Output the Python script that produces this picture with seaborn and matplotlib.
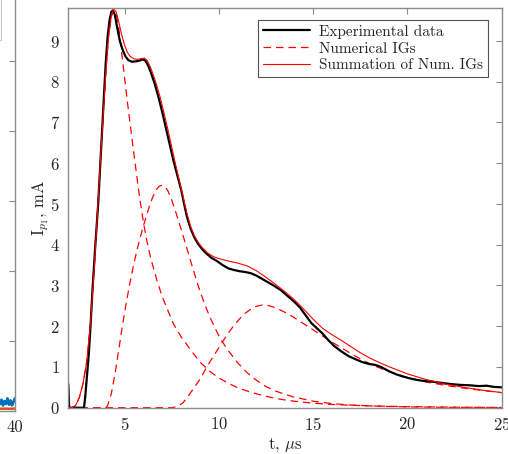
import numpy as np
import pandas as pd
import matplotlib
matplotlib.use("Agg")
import matplotlib.pyplot as plt
from matplotlib.patches import Rectangle
from matplotlib.lines import Line2D
import seaborn as sns

# ---------------- data ----------------
# Experimental data (black)
t_exp = [2.0, 2.02, 2.06, 2.85, 2.92, 3.0, 3.1, 3.2, 3.3, 3.45, 3.6, 3.75, 3.9, 4.0, 4.1, 4.2,
         4.3, 4.38, 4.48, 4.6, 4.75, 4.9, 5.05, 5.2, 5.4, 5.6, 5.8, 5.95, 6.1, 6.25, 6.4, 6.6,
         6.8, 7.0, 7.2, 7.4, 7.6, 7.8, 8.0, 8.15, 8.3, 8.5, 8.7, 8.9, 9.1, 9.3, 9.6, 9.9, 10.2,
         10.5, 10.8, 11.1, 11.4, 11.7, 12.0, 12.3, 12.6, 12.9, 13.3, 13.7, 14.0, 14.3, 14.6,
         14.9, 15.2, 15.5, 15.8, 16.1, 16.5, 16.9, 17.3, 17.6, 18.0, 18.3, 18.6, 19.0, 19.4,
         19.8, 20.3, 20.8, 21.3, 21.8, 22.3, 22.8, 23.3, 23.8, 24.2, 24.6, 25.0]
i_exp = [0.6, 0.55, 0.0, 0.0, 0.3, 0.75, 1.3, 2.05, 2.9, 4.0, 5.0, 6.3, 7.6, 8.45, 9.1, 9.5,
         9.72, 9.75, 9.65, 9.35, 9.0, 8.78, 8.62, 8.53, 8.49, 8.5, 8.52, 8.55, 8.52, 8.4, 8.22, 7.95,
         7.62, 7.25, 6.85, 6.45, 6.05, 5.7, 5.35, 5.02, 4.7, 4.4, 4.18, 4.02, 3.9, 3.8, 3.68, 3.6, 3.5,
         3.42, 3.38, 3.35, 3.33, 3.3, 3.24, 3.16, 3.08, 3.0, 2.88, 2.72, 2.6, 2.46, 2.27,
         2.08, 1.95, 1.82, 1.66, 1.52, 1.38, 1.26, 1.18, 1.12, 1.07, 1.05, 1.0, 0.9, 0.82,
         0.76, 0.7, 0.66, 0.64, 0.61, 0.58, 0.56, 0.55, 0.53, 0.54, 0.51, 0.5]

# Numerical IGs (red dashed)
t_ig1 = [2.0, 2.2, 2.4, 2.6, 2.8, 3.0, 3.2, 3.4, 3.6, 3.8, 4.0, 4.15, 4.3, 4.42, 4.55, 4.7,
         4.85, 5.0, 5.15, 5.3, 5.46, 5.6, 5.8, 6.0, 6.2, 6.4, 6.7, 7.0, 7.3, 7.6, 8.0, 8.5,
         9.0, 9.5, 10.0, 10.5, 11.0, 11.5, 12.0, 12.5, 13.0, 13.5, 14.0, 15.0, 16.0, 17.0,
         18.0, 19.0, 20.0, 21.0, 22.0, 23.0, 24.0, 25.0]
i_ig1 = [0.0, 0.0, 0.05, 0.25, 0.6, 1.15, 2.1, 3.5, 5.1, 6.7, 8.2, 9.1, 9.6, 9.76, 9.7, 9.3,
         8.7, 8.1, 7.5, 6.95, 6.35, 5.85, 5.15, 4.55, 4.05, 3.65, 3.15, 2.72, 2.38, 2.05, 1.74, 1.42,
         1.12, 0.9, 0.73, 0.6, 0.49, 0.41, 0.34, 0.28, 0.23, 0.19, 0.16, 0.11, 0.08, 0.06,
         0.045, 0.035, 0.025, 0.02, 0.015, 0.01, 0.008, 0.005]

t_ig2 = [2.0, 4.0, 4.1, 4.3, 4.5, 4.7, 4.9, 5.1, 5.3, 5.5, 5.7, 5.9, 6.1, 6.3, 6.5, 6.7,
         6.85, 7.0, 7.15, 7.3, 7.5, 7.75, 8.0, 8.3, 8.6, 8.9, 9.2, 9.5, 9.8, 10.1, 10.5, 11.0,
         11.5, 12.0, 12.5, 13.0, 13.5, 14.0, 15.0, 16.0, 17.0, 18.0, 19.0, 20.0, 22.0, 25.0]
i_ig2 = [0.0, 0.0, 0.05, 0.35, 0.85, 1.45, 2.05, 2.6, 3.1, 3.55, 3.95, 4.3, 4.62, 4.92, 5.18, 5.36,
         5.44, 5.46, 5.42, 5.32, 5.1, 4.75, 4.38, 3.92, 3.45, 3.0, 2.6, 2.25, 1.95, 1.68, 1.4, 1.1,
         0.86, 0.67, 0.52, 0.41, 0.33, 0.26, 0.16, 0.1, 0.065, 0.045, 0.03, 0.02, 0.01, 0.005]

t_ig3 = [2.0, 7.5, 7.8, 8.1, 8.4, 8.7, 9.0, 9.3, 9.6, 9.9, 10.2, 10.5, 10.8, 11.1, 11.4,
         11.7, 12.0, 12.3, 12.6, 12.9, 13.2, 13.6, 14.0, 14.5, 15.0, 15.5, 16.0, 16.5, 17.0,
         17.5, 18.0, 18.5, 19.0, 19.5, 20.0, 21.0, 22.0, 23.0, 24.0, 25.0]
i_ig3 = [0.0, 0.0, 0.03, 0.12, 0.3, 0.5, 0.7, 0.95, 1.18, 1.4, 1.62, 1.83, 2.02, 2.18, 2.32,
         2.42, 2.49, 2.52, 2.51, 2.47, 2.41, 2.32, 2.21, 2.06, 1.91, 1.76, 1.61, 1.47, 1.33,
         1.2, 1.08, 0.98, 0.89, 0.81, 0.74, 0.63, 0.55, 0.48, 0.42, 0.37]

# Summation of numerical IGs (red solid)
t_sum = [2.0, 2.2, 2.4, 2.6, 2.8, 3.0, 3.2, 3.4, 3.6, 3.8, 4.0, 4.15, 4.3, 4.42, 4.55, 4.7,
         4.85, 5.0, 5.15, 5.3, 5.5, 5.7, 5.9, 6.05, 6.2, 6.35, 6.5, 6.7, 6.9, 7.1, 7.3, 7.5,
         7.7, 7.9, 8.1, 8.3, 8.5, 8.7, 8.9, 9.1, 9.4, 9.7, 10.0, 10.5, 11.0, 11.5, 12.0, 12.5,
         13.0, 13.5, 14.0, 14.5, 15.0, 15.5, 16.0, 16.5, 17.0, 17.5, 18.0, 18.5, 19.0, 19.5,
         20.0, 21.0, 22.0, 23.0, 24.0, 25.0]
i_sum = [0.0, 0.0, 0.05, 0.25, 0.6, 1.15, 2.1, 3.5, 5.1, 6.7, 8.2, 9.1, 9.62, 9.78, 9.72, 9.45,
         9.15, 8.9, 8.72, 8.62, 8.56, 8.55, 8.57, 8.58, 8.52, 8.38, 8.2, 7.92, 7.6, 7.22, 6.82, 6.4,
         5.98, 5.58, 5.18, 4.78, 4.45, 4.22, 4.06, 3.94, 3.8, 3.71, 3.66, 3.6, 3.55, 3.48, 3.36, 3.2,
         3.03, 2.85, 2.65, 2.42, 2.17, 1.95, 1.79, 1.65, 1.5, 1.35, 1.22, 1.11, 1.01, 0.92,
         0.83, 0.69, 0.58, 0.5, 0.43, 0.37]

# neighbouring panel (partially visible at the left edge)
t_nb = [38.5, 38.65, 38.8, 38.95, 39.1, 39.25, 39.4, 39.55, 39.7, 39.85, 40.0]
i_nb_blue = [1.0, 1.6, 0.8, 1.4, 1.0, 1.8, 0.9, 1.5, 0.8, 1.3, 1.8]
i_nb_orange = [0.3, 0.35, 0.3, 0.35, 0.3, 0.35, 0.3, 0.35, 0.3, 0.35, 0.35]

x_ticks = [5, 10, 15, 20, 25]
y_ticks = [0, 1, 2, 3, 4, 5, 6, 7, 8, 9]
legend_labels = ["Experimental data", "Numerical IGs", "Summation of Num. IGs"]

# ---------------- style ----------------
sns.set_style("white")
plt.rcParams["font.family"] = ["serif"]
plt.rcParams["font.serif"] = ["cmr10"]
plt.rcParams["mathtext.fontset"] = "cm"
plt.rcParams["axes.formatter.use_mathtext"] = True
plt.rcParams["axes.unicode_minus"] = False

W, H = 508, 454
fig = plt.figure(figsize=(W / 100, H / 100), dpi=100)

axis_col = "#8c8c8c"
text_col = "#262626"
dash = (0, (6, 4))

# neighbour panel, mostly off-canvas
axn = fig.add_axes([(15 - 400) / W, (H - 411) / H, 400 / W, 431 / H])
sns.lineplot(x=t_nb, y=i_nb_blue, ax=axn, color="#0072BD", lw=2.0, estimator=None, sort=False)
sns.lineplot(x=t_nb, y=i_nb_orange, ax=axn, color="#D95319", lw=1.8, estimator=None, sort=False)
axn.set_xlim(0, 40)
axn.set_ylim(0, 61.57)
axn.set_xticks([40])
axn.set_xticklabels(["40"])
axn.set_yticks([0, 10, 20, 30, 40, 50, 60])
axn.tick_params(direction="in", length=4, color=axis_col, labelcolor=text_col,
                labelsize=12, right=True, top=True, pad=6, labelleft=False)
for s in axn.spines.values():
    s.set_color(axis_col)
    s.set_linewidth(1.0)
fig.patches.append(Rectangle((-0.2, (H - 40) / H), 0.2 + 1 / W, 0.3, transform=fig.transFigure,
                             fill=False, edgecolor="#c8c8c8", lw=0.8))

# main panel
ax = fig.add_axes([68 / W, (H - 407.7) / H, (501.7 - 68) / W, (407.7 - 8) / H])

for tt, ii in [(t_ig1, i_ig1), (t_ig2, i_ig2), (t_ig3, i_ig3)]:
    sns.lineplot(x=tt, y=ii, ax=ax, color="red", lw=0.9, estimator=None, sort=False,
                 linestyle=dash)
sns.lineplot(x=t_exp, y=i_exp, ax=ax, color="black", lw=1.6, estimator=None, sort=False)
sns.lineplot(x=t_sum, y=i_sum, ax=ax, color="red", lw=0.8, estimator=None, sort=False)

ax.set_xlim(2, 25)
ax.set_ylim(0, 9.81)
ax.set_xticks(x_ticks)
ax.set_yticks(y_ticks)
ax.tick_params(direction="in", length=4, color=axis_col, labelcolor=text_col,
               labelsize=12, right=True, top=True, pad=6)
for s in ax.spines.values():
    s.set_color(axis_col)
    s.set_linewidth(1.0)

ax.set_xlabel(r"t, $\mu$s", fontsize=12, color=text_col, labelpad=2)
ax.set_ylabel(r"I$_{p_1}$, mA", fontsize=12, color=text_col, labelpad=-1)

handles = [Line2D([], [], color="black", lw=1.6),
           Line2D([], [], color="red", lw=0.9, linestyle=dash),
           Line2D([], [], color="red", lw=0.8)]
leg = ax.legend(handles, legend_labels, loc="upper right",
                bbox_to_anchor=((488 - 68) / 433.7, (407.7 - 20) / 399.7),
                fontsize=11, frameon=True, fancybox=False, edgecolor="#262626",
                handlelength=3.1, handletextpad=0.6, labelspacing=0.2, borderpad=0.3,
                borderaxespad=0.0)
leg.get_frame().set_linewidth(0.8)
for txt in leg.get_texts():
    txt.set_color(text_col)

fig.savefig("out.png", dpi=100)
